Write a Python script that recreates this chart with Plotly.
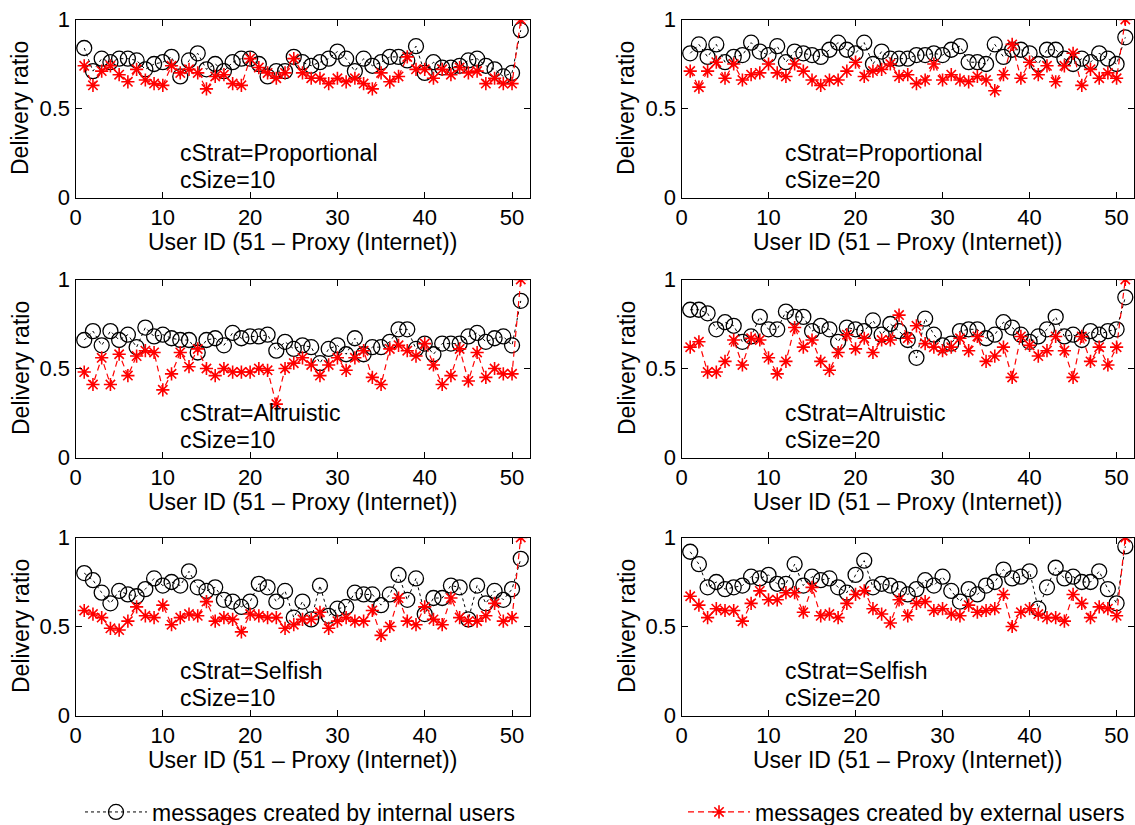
import plotly.graph_objects as go

user_ids = list(range(1, 52))

# Delivery ratio per user, internal (circles) and external (asterisks) senders
int_prop_10 = [0.84,0.71,0.78,0.76,0.78,0.78,0.77,0.72,0.75,0.76, 0.79,0.68,0.77,0.81,0.72,0.75,0.71,0.76,0.78,0.78,
               0.75,0.68,0.71,0.71,0.79, 0.76,0.74,0.76,0.78,0.82, 0.78,0.71,0.78,0.74,0.76, 0.79,0.79,0.77,0.85,0.70,
               0.76,0.73,0.73,0.74,0.77, 0.78,0.74,0.72,0.68,0.70, 0.94]
ext_prop_10 = [0.74,0.63,0.71,0.74,0.69,0.65,0.72,0.66,0.64,0.63, 0.74,0.70,0.72,0.70,0.61,0.68,0.69,0.64,0.63,0.78,
               0.73,0.70,0.67,0.70,0.78, 0.70,0.67,0.67,0.64,0.67, 0.65,0.67,0.64,0.61,0.70, 0.65,0.68,0.79,0.72,0.72,
               0.67,0.72,0.69,0.73,0.70, 0.71,0.64,0.67,0.64,0.64, 1.0]

int_prop_20 = [0.81,0.86,0.79,0.86,0.76,0.79,0.80,0.87,0.82,0.80, 0.85,0.76,0.82,0.81,0.80,0.79,0.83,0.87,0.83,0.81,
               0.87,0.75,0.82,0.78,0.78, 0.78,0.80,0.80,0.81,0.80, 0.83,0.85,0.76,0.76,0.75, 0.86,0.79,0.83,0.83,0.81,
               0.75,0.83,0.83,0.78,0.75, 0.78,0.76,0.81,0.78,0.75, 0.90]
ext_prop_20 = [0.71,0.62,0.71,0.76,0.67,0.75,0.66,0.69,0.70,0.75, 0.70,0.68,0.75,0.71,0.66,0.63,0.66,0.66,0.71,0.76,
               0.68,0.71,0.72,0.75,0.68, 0.69,0.64,0.66,0.75,0.66, 0.69,0.66,0.65,0.68,0.66, 0.60,0.69,0.86,0.67,0.76,
               0.69,0.74,0.65,0.74,0.81, 0.63,0.72,0.67,0.70,0.67, 1.0]

int_alt_10 = [0.66,0.71,0.63,0.71,0.66,0.69,0.62,0.73,0.68,0.69, 0.67,0.66,0.66,0.59,0.66,0.67,0.63,0.70,0.67,0.68,
              0.68,0.69,0.60,0.65,0.61, 0.63,0.62,0.53,0.61,0.63, 0.58,0.67,0.58,0.62,0.62, 0.65,0.72,0.72,0.61,0.64,
              0.58,0.64,0.64,0.64,0.68, 0.70,0.65,0.67,0.68,0.63, 0.88]
ext_alt_10 = [0.48,0.41,0.56,0.41,0.58,0.46,0.57,0.60,0.59,0.38, 0.47,0.59,0.51,0.61,0.50,0.46,0.50,0.48,0.48,0.48,
              0.50,0.49,0.30,0.50,0.53, 0.56,0.52,0.46,0.52,0.56, 0.49,0.56,0.60,0.45,0.41, 0.61,0.63,0.60,0.57,0.64,
              0.52,0.41,0.46,0.61,0.43, 0.59,0.45,0.50,0.47,0.47, 1.0]

int_alt_20 = [0.83,0.83,0.81,0.72,0.76,0.74,0.65,0.68,0.79,0.72, 0.72,0.82,0.79,0.79,0.71,0.74,0.72,0.65,0.73,0.72,
              0.71,0.77,0.69,0.75,0.71, 0.66,0.56,0.78,0.69,0.63, 0.64,0.71,0.72,0.72,0.67, 0.69,0.76,0.73,0.69,0.65,
              0.68,0.72,0.79,0.68,0.69, 0.66,0.71,0.69,0.71,0.72, 0.90]
ext_alt_20 = [0.62,0.65,0.48,0.48,0.54,0.66,0.52,0.67,0.66,0.56, 0.47,0.54,0.73,0.62,0.66,0.54,0.49,0.59,0.69,0.61,
              0.67,0.59,0.66,0.66,0.80, 0.67,0.74,0.64,0.62,0.60, 0.62,0.67,0.60,0.68,0.54, 0.57,0.62,0.45,0.68,0.63,
              0.57,0.60,0.68,0.60,0.45, 0.68,0.54,0.62,0.52,0.62, 1.0]

int_self_10 = [0.80,0.76,0.69,0.63,0.70,0.68,0.67,0.71,0.77,0.73, 0.75,0.73,0.81,0.72,0.70,0.72,0.65,0.64,0.61,0.64,
               0.74,0.72,0.64,0.70,0.55, 0.64,0.54,0.73,0.56,0.60, 0.61,0.69,0.68,0.68,0.62, 0.68,0.79,0.65,0.77,0.57,
               0.66,0.66,0.73,0.72,0.54, 0.73,0.63,0.70,0.65,0.71, 0.88]
ext_self_10 = [0.59,0.57,0.55,0.49,0.48,0.53,0.61,0.56,0.55,0.62, 0.51,0.55,0.57,0.56,0.64,0.53,0.55,0.54,0.47,0.57,
               0.56,0.55,0.55,0.49,0.51, 0.54,0.54,0.58,0.49,0.53, 0.55,0.53,0.53,0.59,0.45, 0.50,0.66,0.53,0.51,0.61,
               0.54,0.51,0.66,0.55,0.53, 0.53,0.56,0.63,0.53,0.55, 1.0]

int_self_20 = [0.92,0.85,0.72,0.75,0.71,0.72,0.73,0.78,0.77,0.79, 0.74,0.74,0.85,0.73,0.78,0.76,0.77,0.72,0.69,0.79,
               0.87,0.72,0.74,0.73,0.71, 0.68,0.71,0.76,0.73,0.78, 0.70,0.64,0.71,0.68,0.73, 0.75,0.82,0.77,0.78,0.81,
               0.60,0.72,0.83,0.77,0.78, 0.75,0.75,0.81,0.71,0.63, 0.95]
ext_self_20 = [0.67,0.62,0.55,0.60,0.59,0.59,0.53,0.63,0.70,0.65, 0.65,0.69,0.69,0.58,0.72,0.56,0.57,0.55,0.63,0.68,
               0.70,0.60,0.57,0.52,0.65, 0.56,0.63,0.64,0.59,0.60, 0.57,0.56,0.62,0.58,0.59, 0.60,0.68,0.50,0.58,0.60,
               0.57,0.55,0.55,0.53,0.68, 0.63,0.55,0.61,0.60,0.56, 1.0]

strategies = ["Proportional", "Proportional", "Altruistic", "Altruistic", "Selfish", "Selfish"]
cluster_sizes = [10, 20, 10, 20, 10, 20]
internal = [int_prop_10, int_prop_20, int_alt_10, int_alt_20, int_self_10, int_self_20]
external = [ext_prop_10, ext_prop_20, ext_alt_10, ext_alt_20, ext_self_10, ext_self_20]

x_ticks = [0, 10, 20, 30, 40, 50]
y_ticks = [0, 0.5, 1]
y_tick_text = ["0", "0.5", "1"]
legend_names = ["messages created by internal users", "messages created by external users"]
x_title = "User ID (51 \u2013 Proxy (Internet))"
y_title = "Delivery ratio"

W, H = 1135, 825
FONT = "Liberation Sans, Arial, Helvetica, sans-serif"
FS = 23
TICK_FS = 22

# panel frames in pixels: (left, right) per column, (top, bottom) per row
cols = [(75.5, 529.5), (681.5, 1134.0)]
rows = [(19.5, 197.5), (279.5, 457.5), (537.5, 715.5)]

fig = go.Figure()
layout = dict(
    width=W, height=H, margin=dict(l=0, r=0, t=0, b=0, autoexpand=False),
    paper_bgcolor="white", plot_bgcolor="white",
    font=dict(family=FONT, size=FS, color="black"),
    annotations=[],
)

for k in range(6):
    r, c = divmod(k, 2)
    left, right = cols[c]
    top, bottom = rows[r]
    sfx = "" if k == 0 else str(k + 1)
    xa, ya = "x" + sfx, "y" + sfx

    fig.add_trace(go.Scatter(
        x=user_ids, y=internal[k], xaxis=xa, yaxis=ya, mode="lines+markers",
        name=legend_names[0], legend="legend", showlegend=(k == 0),
        line=dict(color="black", width=1, dash="dot"),
        marker=dict(symbol="circle-open", size=15, color="black", line=dict(width=1.3, color="black")),
    ))
    fig.add_trace(go.Scatter(
        x=user_ids, y=external[k], xaxis=xa, yaxis=ya, mode="lines+markers",
        name=legend_names[1], legend="legend2", showlegend=(k == 0),
        line=dict(color="red", width=1.2, dash="6px,4px"),
        marker=dict(symbol="asterisk-open", size=11, color="red", line=dict(width=1.6, color="red")),
    ))

    axis_common = dict(showline=True, linecolor="black", linewidth=1, mirror="ticks",
                       ticks="inside", ticklen=6, tickcolor="black", showgrid=False, zeroline=False,
                       tickfont=dict(family=FONT, size=TICK_FS, color="black"))
    layout["xaxis" + sfx] = dict(axis_common, domain=[left / W, right / W], range=[0, 52],
                                 tickvals=x_ticks, anchor=ya)
    layout["yaxis" + sfx] = dict(axis_common, domain=[1 - bottom / H, 1 - top / H], range=[0, 1],
                                 tickvals=y_ticks, ticktext=y_tick_text, anchor=xa)

    # panel caption
    layout["annotations"].append(dict(
        xref=xa, yref=ya, x=11.7, y=0.25, xanchor="left", yanchor="middle",
        text="cStrat=" + strategies[k], showarrow=False, font=dict(size=FS)))
    layout["annotations"].append(dict(
        xref=xa, yref=ya, x=11.7, y=0.10, xanchor="left", yanchor="middle",
        text="cSize=" + str(cluster_sizes[k]), showarrow=False, font=dict(size=FS)))
    # axis titles
    layout["annotations"].append(dict(
        xref="paper", yref="paper", x=(left + right) / 2 / W, y=1 - (bottom + 44) / H,
        xanchor="center", yanchor="middle", text=x_title, showarrow=False, font=dict(size=FS)))
    layout["annotations"].append(dict(
        xref="paper", yref="paper", x=(left - 55) / W, y=1 - (top + bottom) / 2 / H,
        xanchor="center", yanchor="middle", text=y_title, textangle=-90, showarrow=False,
        font=dict(size=FS)))

legend_common = dict(orientation="h", yanchor="middle", xanchor="left", itemwidth=62,
                     bgcolor="rgba(0,0,0,0)", borderwidth=0, font=dict(family=FONT, size=FS))
layout["legend"] = dict(legend_common, x=80 / W, y=1 - 812 / H)
layout["legend2"] = dict(legend_common, x=683 / W, y=1 - 812 / H)

fig.update_layout(**layout)
fig.write_html("out.html")
